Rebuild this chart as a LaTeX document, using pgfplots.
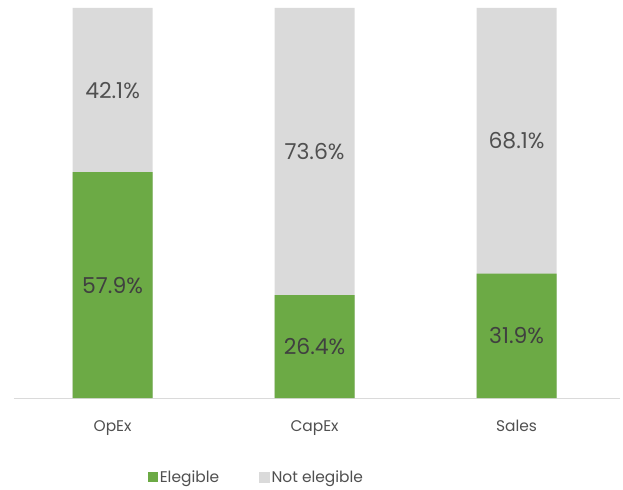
\documentclass[border=0pt]{standalone}
\usepackage{pgfplots}
\pgfplotsset{compat=1.18}
\usepackage{fontspec}
\setmainfont{Poppins}
\definecolor{grn}{HTML}{6CAA45}
\definecolor{gry}{HTML}{DADADA}
\definecolor{txt}{HTML}{505050}
\definecolor{txtd}{HTML}{404040}
\begin{document}
\begin{tikzpicture}
\begin{axis}[
  name=ax,
  scale only axis,
  width=606bp, height=390bp,
  xmin=-0.488, xmax=2.512,
  ymin=0, ymax=100,
  hide y axis,
  axis x line*=bottom,
  x axis line style={draw=gry, line width=1pt, -},
  xtick={0,1,2},
  xticklabels={OpEx,CapEx,Sales},
  major tick length=0pt,
  xticklabel style={font=\fontsize{15.5}{18}\selectfont, text=txt, anchor=base, yshift=-33bp},
  legend style={draw=none, at={(0.400,-0.203)}, anchor=center, legend columns=2,
    font=\fontsize{15.5}{18}\selectfont, text=txt,
    /tikz/every even column/.append style={column sep=38bp}},
  legend cell align=left,
]
\addplot[ybar, bar width=80bp, bar shift=0pt, fill=gry, draw=none, forget plot]
  coordinates {(0,100) (1,100) (2,100)};
\addplot[ybar, bar width=80bp, bar shift=0pt, fill=grn, draw=none,
  legend image code/.code={\fill[grn] (0bp,-5bp) rectangle (10bp,5bp);}]
  coordinates {(0,57.9) (1,26.4) (2,31.9)};
\addlegendentry{Elegible}
\addlegendimage{legend image code/.code={\fill[gry] (0bp,-5bp) rectangle (10bp,5bp);}}
\addlegendentry{Not elegible}
\addplot[draw=none, mark=none, nodes near coords, point meta=explicit symbolic,
  every node near coord/.style={anchor=center, font=\fontsize{22}{26}\selectfont, text=txtd}, forget plot]
  coordinates {(0,28.95)[57.9\%] (1,13.2)[26.4\%] (2,15.95)[31.9\%]};
\addplot[draw=none, mark=none, nodes near coords, point meta=explicit symbolic,
  every node near coord/.style={anchor=center, font=\fontsize{22}{26}\selectfont, text=txt}, forget plot]
  coordinates {(0,78.95)[42.1\%] (1,63.2)[73.6\%] (2,65.95)[68.1\%]};
\end{axis}
\path (ax.south west) ++(-14bp,-92bp) rectangle ([shift={(3bp,8bp)}]ax.north east);
\end{tikzpicture}
\end{document}
